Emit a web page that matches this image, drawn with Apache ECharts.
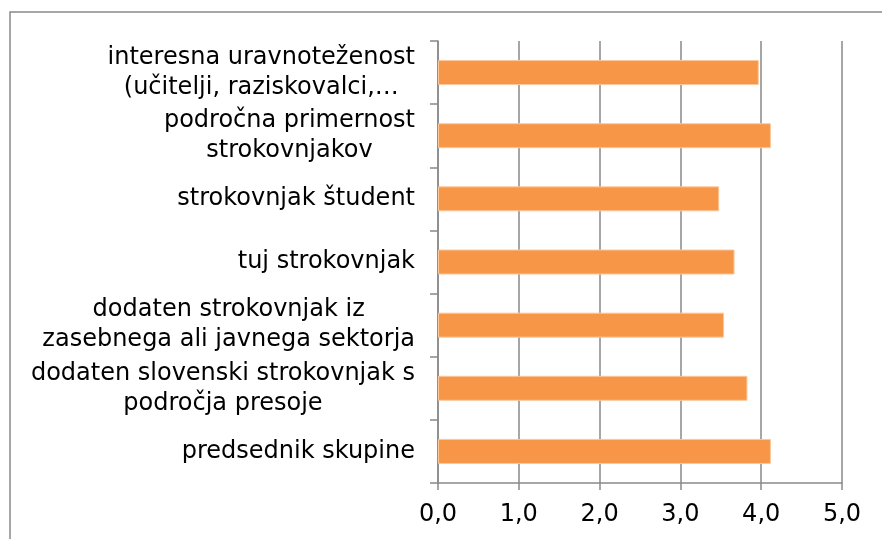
<!DOCTYPE html>
<html>
<head>
<meta charset="utf-8">
<script src="https://cdn.jsdelivr.net/npm/echarts@6/dist/echarts.min.js"></script>
<style>
  html, body { margin: 0; padding: 0; background: #fff; }
  #chart { width: 882px; height: 539px; }
</style>
</head>
<body>
<div id="chart"></div>
<script>
// categories, top to bottom as they appear
var categories = [
  "interesna uravnoteženost\n(učitelji, raziskovalci,…",
  "področna primernost\nstrokovnjakov",
  "strokovnjak študent",
  "tuj strokovnjak",
  "dodaten strokovnjak iz\nzasebnega ali javnega sektorja",
  "dodaten slovenski strokovnjak s\npodročja presoje",
  "predsednik skupine"
];
var values = [3.97, 4.12, 3.48, 3.67, 3.54, 3.83, 4.12];
var xTicks = [0, 1, 2, 3, 4, 5];

var gray = "#898989";
var font = "DejaVu Sans";

var chart = echarts.init(document.getElementById("chart"));

chart.setOption({
  animation: false,
  backgroundColor: "#fff",
  graphic: [{
    type: "rect",
    shape: { x: 10, y: 12, width: 900, height: 600 },
    style: { fill: "none", stroke: gray, lineWidth: 1.5 },
    silent: true
  }],
  grid: { left: 438, right: 40, top: 41, bottom: 56 },
  xAxis: {
    type: "value",
    min: xTicks[0],
    max: xTicks[xTicks.length - 1],
    interval: 1,
    axisLine: { show: true, lineStyle: { color: gray, width: 1.5 } },
    axisTick: { show: true, length: 7, lineStyle: { color: gray, width: 1.5 } },
    splitLine: { show: true, lineStyle: { color: gray, width: 1.5 } },
    axisLabel: {
      margin: 20,
      color: "#000",
      fontFamily: font,
      fontSize: 24,
      formatter: function (v) { return v.toFixed(1).replace(".", ","); }
    }
  },
  yAxis: {
    type: "category",
    inverse: true,
    data: categories,
    axisLine: { show: true, lineStyle: { color: gray, width: 1.5 } },
    axisTick: { show: true, length: 8, lineStyle: { color: gray, width: 1.5 } },
    axisLabel: {
      margin: 23,
      color: "#000",
      fontFamily: font,
      fontSize: 24,
      lineHeight: 30,
      align: "right",
      formatter: function (v) {
        return v.split("\n").map(function (s) { return "{c|" + s + "}"; }).join("\n");
      },
      rich: {
        c: { align: "center", fontFamily: font, fontSize: 24, lineHeight: 30, color: "#000" }
      }
    }
  },
  series: [{
    type: "bar",
    data: values,
    barWidth: 25,
    itemStyle: { color: "#F79646", borderColor: "#FBC79C", borderWidth: 1 }
  }]
});
</script>
</body>
</html>
